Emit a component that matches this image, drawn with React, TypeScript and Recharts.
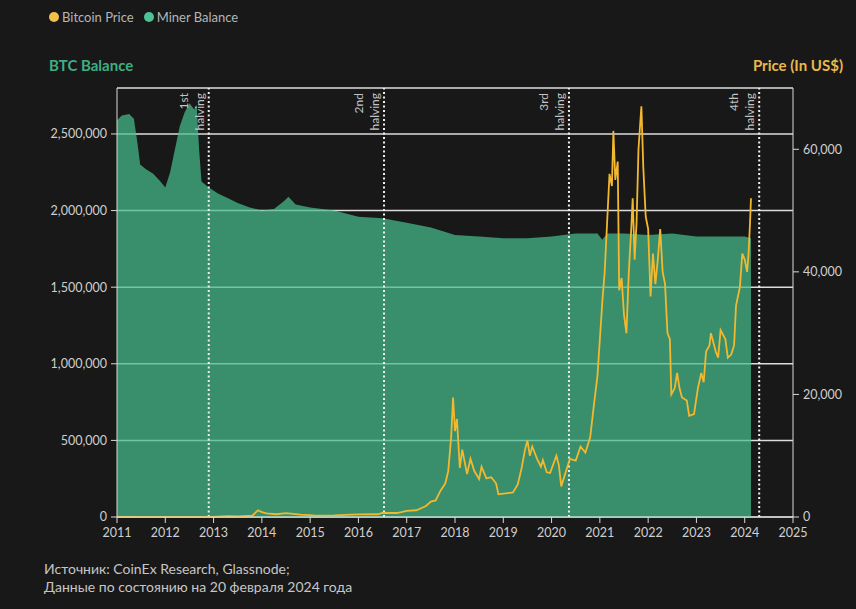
import React from "react";
import {
  ComposedChart, Area, Line, XAxis, YAxis, CartesianGrid, ReferenceLine,
} from "recharts";

/* ─── Miner balance (BTC) ───────────────────── */
const balanceYears = [
  2011.0, 2011.1, 2011.25, 2011.35, 2011.42, 2011.48, 2011.6, 2011.75, 2011.9, 2012.0,
  2012.1, 2012.2, 2012.3, 2012.4, 2012.5, 2012.6, 2012.65, 2012.7, 2012.75, 2012.9,
  2013.1, 2013.3, 2013.5, 2013.75, 2014.0, 2014.25, 2014.45, 2014.55, 2014.7, 2015.0,
  2015.5, 2016.0, 2016.5, 2017.0, 2017.5, 2018.0, 2018.5, 2019.0, 2019.5, 2020.0,
  2020.5, 2020.95, 2021.05, 2021.15, 2021.5, 2022.0, 2022.5, 2023.0, 2023.5, 2024.0, 2024.13,
];
const balanceValues = [
  2590000, 2620000, 2630000, 2600000, 2450000, 2300000, 2270000, 2240000, 2190000, 2150000,
  2250000, 2400000, 2550000, 2640000, 2700000, 2660000, 2690000, 2400000, 2190000, 2150000,
  2110000, 2080000, 2050000, 2020000, 2000000, 2010000, 2060000, 2090000, 2040000, 2020000,
  2000000, 1960000, 1950000, 1920000, 1890000, 1840000, 1830000, 1820000, 1820000, 1830000,
  1850000, 1850000, 1810000, 1850000, 1850000, 1840000, 1850000, 1830000, 1830000, 1830000, 1820000,
];

/* ─── Bitcoin price (US$) ───────────────────── */
const priceYears = [
  2011.0, 2011.45, 2012.0, 2012.5, 2013.0, 2013.3, 2013.5, 2013.8, 2013.92, 2014.0,
  2014.1, 2014.3, 2014.5, 2014.8, 2015.0, 2015.1, 2015.5, 2015.85, 2016.0, 2016.4,
  2016.5, 2016.8, 2017.0, 2017.2, 2017.4, 2017.5, 2017.6, 2017.7, 2017.8, 2017.86,
  2017.92, 2017.96, 2018.0, 2018.04, 2018.1, 2018.15, 2018.25, 2018.32, 2018.4, 2018.5,
  2018.55, 2018.65, 2018.75, 2018.85, 2018.9, 2019.0, 2019.2, 2019.3, 2019.38, 2019.45,
  2019.5, 2019.55, 2019.6, 2019.7, 2019.78, 2019.82, 2019.9, 2019.97, 2020.1, 2020.15,
  2020.2, 2020.3, 2020.38, 2020.5, 2020.6, 2020.7, 2020.8, 2020.88, 2020.95, 2021.0,
  2021.05, 2021.1, 2021.15, 2021.2, 2021.25, 2021.28, 2021.32, 2021.37, 2021.4, 2021.45,
  2021.5, 2021.55, 2021.6, 2021.65, 2021.68, 2021.72, 2021.76, 2021.8, 2021.86, 2021.9,
  2021.95, 2022.0, 2022.05, 2022.1, 2022.15, 2022.2, 2022.25, 2022.3, 2022.35, 2022.4,
  2022.45, 2022.48, 2022.55, 2022.6, 2022.65, 2022.7, 2022.8, 2022.85, 2022.95, 2023.03,
  2023.1, 2023.15, 2023.2, 2023.27, 2023.3, 2023.4, 2023.45, 2023.5, 2023.6, 2023.65,
  2023.72, 2023.78, 2023.82, 2023.9, 2023.95, 2024.0, 2024.05, 2024.08, 2024.11, 2024.13,
];
const priceValues = [
  0.3, 15, 5, 7, 13, 120, 90, 200, 1100, 800,
  600, 450, 620, 380, 300, 220, 260, 400, 430, 450,
  680, 650, 1000, 1100, 1800, 2500, 2700, 4300, 5500, 7500,
  13000, 19500, 14000, 16000, 8000, 11000, 7000, 9500, 7500, 6200,
  8200, 6300, 6500, 5500, 3700, 3800, 4000, 5300, 8000, 11000,
  12500, 10000, 11500, 9500, 8200, 9300, 7300, 7200, 10000, 8500,
  5000, 7500, 9500, 9200, 11500, 10500, 13000, 18500, 23000, 29000,
  35000, 40000, 48000, 56000, 54000, 63000, 55000, 58000, 37000, 39000,
  33000, 30000, 40000, 47000, 52000, 42000, 48000, 60000, 67000, 57000,
  49000, 47000, 36000, 43000, 38000, 42000, 47000, 40000, 38000, 30000,
  29000, 20000, 21000, 23500, 21000, 19500, 19000, 16500, 16800, 21000,
  23500, 22000, 27000, 28000, 30000, 27000, 26000, 30500, 29000, 26000,
  26500, 28000, 34500, 37500, 43000, 42000, 40000, 43000, 48000, 52000,
];

/* ─── Axes / markers ────────────────────────── */
const yearTicks = [2011, 2012, 2013, 2014, 2015, 2016, 2017, 2018, 2019, 2020, 2021, 2022, 2023, 2024, 2025];
const balanceTicks = [0, 500000, 1000000, 1500000, 2000000, 2500000];
const priceTicks = [0, 20000, 40000, 60000];
const halvingYears = [2012.9, 2016.53, 2020.36, 2024.3];
const halvingNames = ["1st", "2nd", "3rd", "4th"];

const FONT = "Lato, 'Noto Sans', sans-serif";
const GREEN = "#47bd8d";
const YELLOW = "#f2b830";

// merge both series on one numeric x axis
const rowMap = new Map<number, { year: number; balance?: number; price?: number }>();
balanceYears.forEach((y, i) => rowMap.set(y, { ...(rowMap.get(y) || { year: y }), balance: balanceValues[i] }));
priceYears.forEach((y, i) => rowMap.set(y, { ...(rowMap.get(y) || { year: y }), price: priceValues[i] }));
const rows = Array.from(rowMap.values()).sort((a, b) => a.year - b.year);

const HalvingLabel = ({ viewBox, name }: { viewBox?: { x: number; y: number }; name: string }) => {
  if (!viewBox) return null;
  const top = viewBox.y + 5;
  const x1 = viewBox.x - 21;
  const x2 = viewBox.x - 5;
  const style = { fontSize: 12, fill: "#c4c4c4", fontFamily: FONT };
  return (
    <g>
      <text x={x1} y={top} textAnchor="end" transform={`rotate(-90, ${x1}, ${top})`} style={style}>{name}</text>
      <text x={x2} y={top} textAnchor="end" transform={`rotate(-90, ${x2}, ${top})`} style={style}>halving</text>
    </g>
  );
};

const tickStyle = { fontSize: 12.5, fill: "#cfcfcf", fontFamily: FONT };

export default function App() {
  return (
    <div style={{ position: "absolute", left: 0, top: 0, width: 856, height: 609, background: "#181818", fontFamily: FONT, overflow: "hidden" }}>
      {/* legend */}
      <div style={{ position: "absolute", left: 49, top: 9, display: "flex", alignItems: "center", fontSize: 13, color: "#b5b5b5" }}>
        <span style={{ width: 10, height: 10, borderRadius: 5, background: "#f3c04a", marginRight: 3 }} />
        <span style={{ marginRight: 10 }}>Bitcoin Price</span>
        <span style={{ width: 10, height: 10, borderRadius: 5, background: "#4cc296", marginRight: 3 }} />
        <span>Miner Balance</span>
      </div>
      <div style={{ position: "absolute", left: 49, top: 56, fontSize: 15, fontWeight: 700, color: "#3fae83" }}>BTC Balance</div>
      <div style={{ position: "absolute", right: 13, top: 56, fontSize: 15, fontWeight: 700, color: "#e8b84a" }}>Price (In US$)</div>

      <div style={{ position: "absolute", left: 0, top: 0 }}>
        <ComposedChart width={856} height={609} data={rows} margin={{ top: 88, right: 3, left: 47, bottom: 62 }}>
          <CartesianGrid yAxisId="left" vertical={false} stroke="#dcdcdc" strokeWidth={1.5} />
          <XAxis
            dataKey="year" type="number" domain={[2011, 2025]} ticks={yearTicks} height={30}
            stroke="#d9d9d9" tick={tickStyle} tickSize={6} tickMargin={5} allowDataOverflow
          />
          <YAxis
            yAxisId="left" domain={[0, 2800000]} ticks={balanceTicks} width={70}
            stroke="#d9d9d9" tick={tickStyle} tickSize={6} tickMargin={4}
            tickFormatter={(v) => v.toLocaleString("en-US")}
          />
          <YAxis
            yAxisId="right" orientation="right" domain={[0, 70000]} ticks={priceTicks} width={60}
            stroke="#d9d9d9" tick={tickStyle} tickSize={6} tickMargin={4}
            tickFormatter={(v) => v.toLocaleString("en-US")}
          />
          <Area
            yAxisId="left" type="linear" dataKey="balance" name="Miner Balance"
            fill={GREEN} fillOpacity={0.72} stroke="none" connectNulls
            dot={false} activeDot={false} isAnimationActive={false}
          />
          {halvingYears.map((y, i) => (
            <ReferenceLine
              key={y} yAxisId="left" x={y} stroke="#f0f0f0" strokeWidth={2} strokeDasharray="2 2.5"
              label={<HalvingLabel name={halvingNames[i]} />}
            />
          ))}
          <Line
            yAxisId="right" type="linear" dataKey="price" name="Bitcoin Price"
            stroke={YELLOW} strokeWidth={1.8} connectNulls
            dot={false} activeDot={false} isAnimationActive={false}
          />
        </ComposedChart>
      </div>

      {/* footnote */}
      <div style={{ position: "absolute", left: 44, top: 560, fontSize: 14, lineHeight: "18px", color: "#c6c6c6" }}>
        Источник: CoinEx Research, Glassnode;<br />
        Данные по состоянию на 20 февраля 2024 года
      </div>
    </div>
  );
}
